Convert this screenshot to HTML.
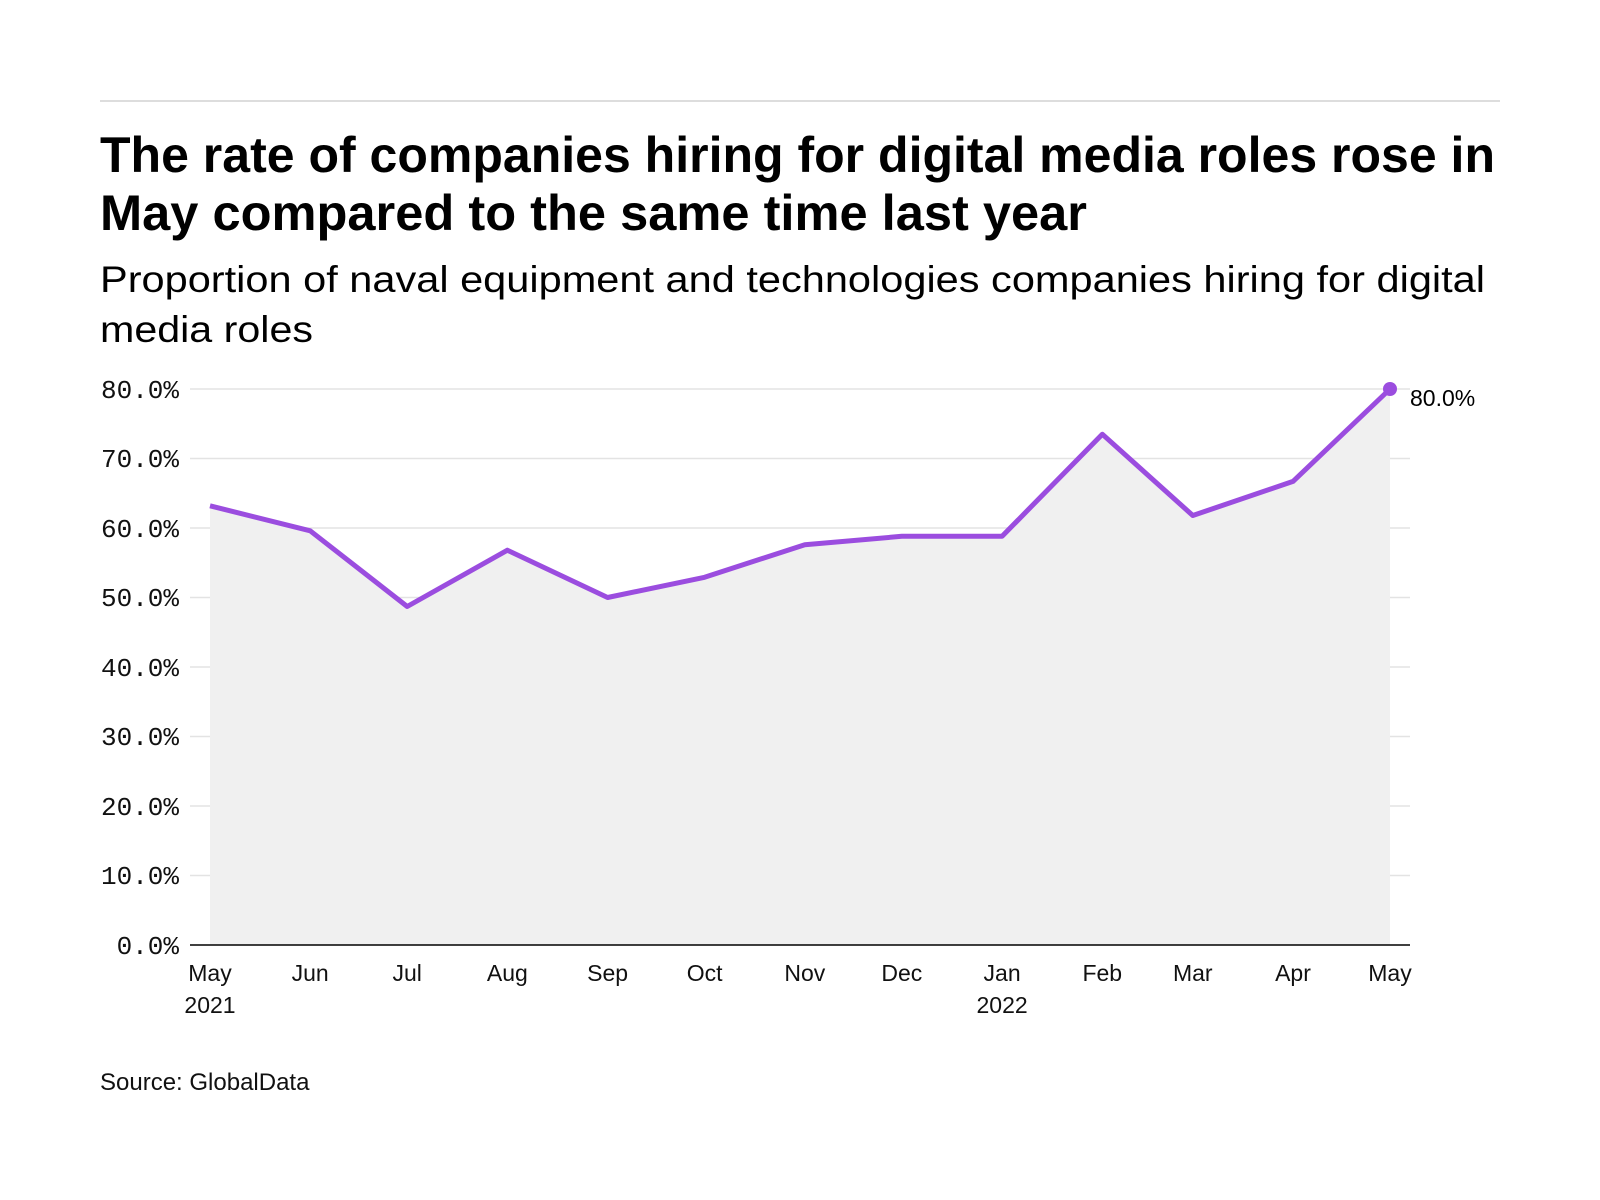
<!DOCTYPE html>
<html><head><meta charset="utf-8"><style>html,body{margin:0;padding:0;background:#fff}svg{display:block}</style></head>
<body>
<svg width="1600" height="1200" viewBox="0 0 1600 1200" xmlns="http://www.w3.org/2000/svg">
<rect width="1600" height="1200" fill="#fff"/>
<line x1="100" y1="101" x2="1500" y2="101" stroke="#ddd" stroke-width="2"/>
<g font-family="Liberation Sans, sans-serif" fill="#000">
<text x="100" y="172" font-size="50" font-weight="bold" textLength="1395" lengthAdjust="spacingAndGlyphs">The rate of companies hiring for digital media roles rose in</text>
<text x="100" y="230" font-size="50" font-weight="bold" textLength="987" lengthAdjust="spacingAndGlyphs">May compared to the same time last year</text>
<text x="100" y="292" font-size="37" textLength="1385" lengthAdjust="spacingAndGlyphs">Proportion of naval equipment and technologies companies hiring for digital</text>
<text x="100" y="342" font-size="37" textLength="213" lengthAdjust="spacingAndGlyphs">media roles</text>
</g>
<g stroke="#e3e3e3" stroke-width="1.5">
<line x1="190" x2="1410" y1="389" y2="389"/><line x1="190" x2="1410" y1="458.5" y2="458.5"/>
<line x1="190" x2="1410" y1="528" y2="528"/><line x1="190" x2="1410" y1="597.5" y2="597.5"/>
<line x1="190" x2="1410" y1="667" y2="667"/><line x1="190" x2="1410" y1="736.5" y2="736.5"/>
<line x1="190" x2="1410" y1="806" y2="806"/><line x1="190" x2="1410" y1="875.5" y2="875.5"/>
</g>
<polygon fill="#f0f0f0" points="210,945 210,505.8 310.2,530.8 407.2,606.5 507.4,550.2 607.6,597.5 704.6,577.3 804.8,544.7 901.8,536.3 1002.1,536.3 1102.3,434.2 1192.8,515.5 1293,481.4 1390,389 1390,945"/>
<line x1="190" x2="1410" y1="945" y2="945" stroke="#000" stroke-width="1.5"/>
<polyline fill="none" stroke="#9b4ddf" stroke-width="5" stroke-linejoin="round" points="210,505.8 310.2,530.8 407.2,606.5 507.4,550.2 607.6,597.5 704.6,577.3 804.8,544.7 901.8,536.3 1002.1,536.3 1102.3,434.2 1192.8,515.5 1293,481.4 1390,389"/>
<circle cx="1390" cy="389" r="7" fill="#9b4ddf"/>
<text x="1410" y="406" font-family="Liberation Sans, sans-serif" font-size="23" fill="#000">80.0%</text>
<g font-family="Liberation Mono, monospace" font-size="26" fill="#111" text-anchor="end">
<text x="179" y="398">80.0%</text><text x="179" y="467">70.0%</text><text x="179" y="537">60.0%</text>
<text x="179" y="606">50.0%</text><text x="179" y="676">40.0%</text><text x="179" y="745">30.0%</text>
<text x="179" y="815">20.0%</text><text x="179" y="884">10.0%</text><text x="179" y="954">0.0%</text>
</g>
<g font-family="Liberation Sans, sans-serif" font-size="23" fill="#111" text-anchor="middle">
<text x="210" y="981">May</text><text x="210" y="1013">2021</text>
<text x="310.2" y="981">Jun</text><text x="407.2" y="981">Jul</text><text x="507.4" y="981">Aug</text>
<text x="607.6" y="981">Sep</text><text x="704.6" y="981">Oct</text><text x="804.8" y="981">Nov</text>
<text x="901.8" y="981">Dec</text><text x="1002.1" y="981">Jan</text><text x="1002.1" y="1013">2022</text>
<text x="1102.3" y="981">Feb</text><text x="1192.8" y="981">Mar</text><text x="1293" y="981">Apr</text>
<text x="1390" y="981">May</text>
</g>
<text x="100" y="1090" font-family="Liberation Sans, sans-serif" font-size="24" fill="#111">Source: GlobalData</text>
</svg>
</body></html>
